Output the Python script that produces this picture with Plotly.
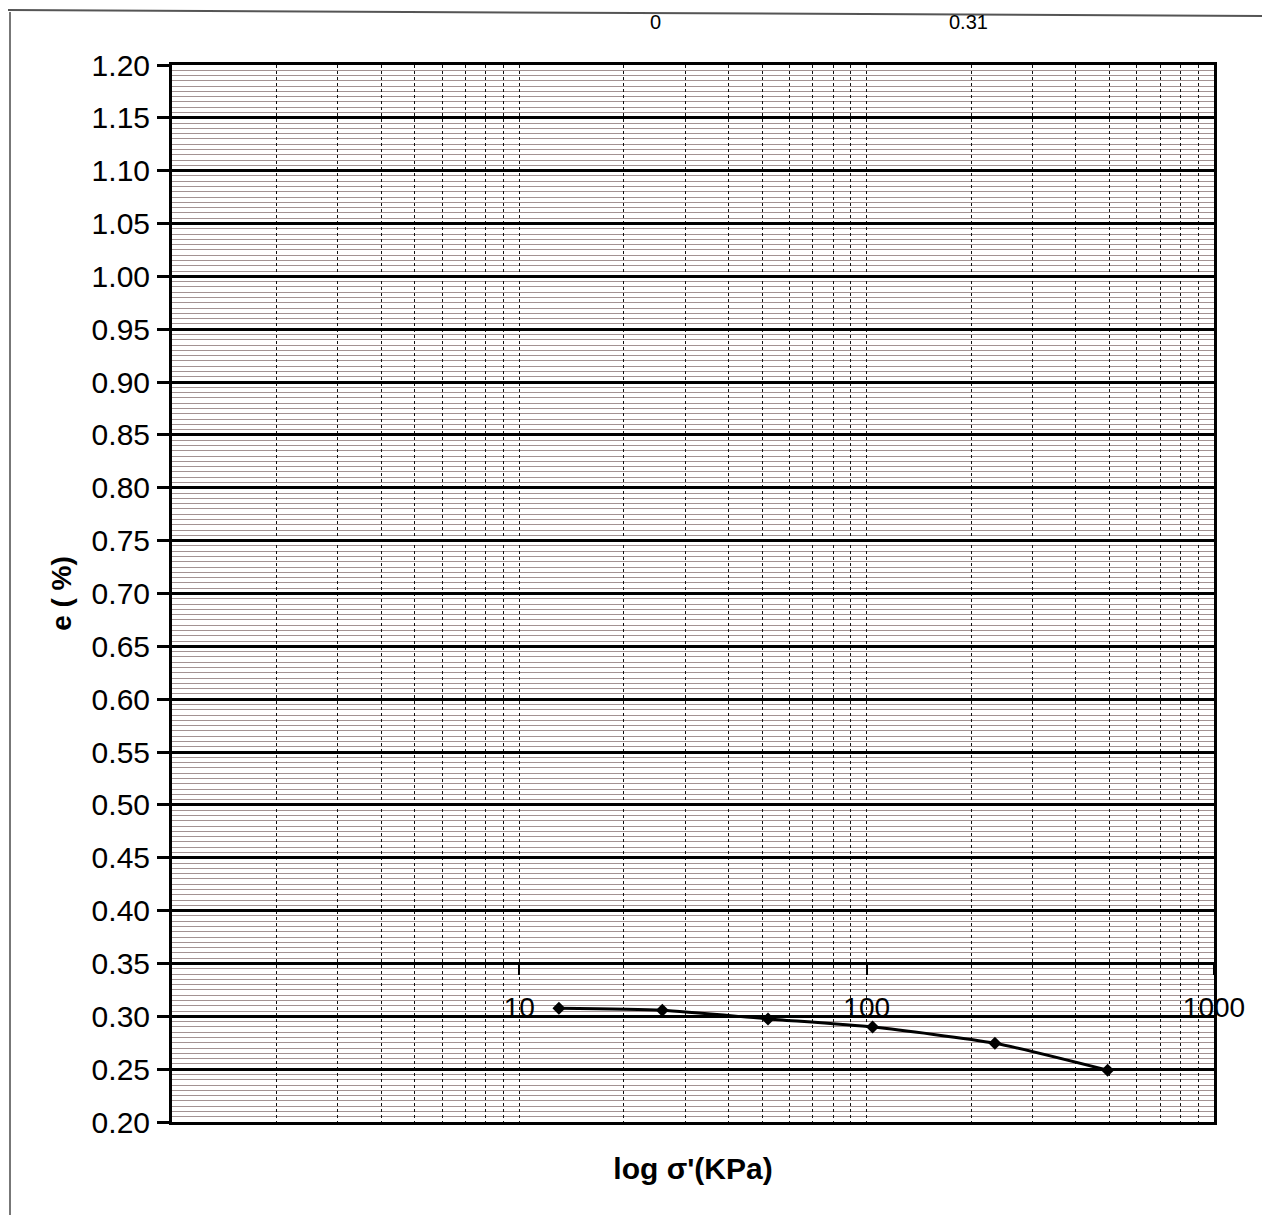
import plotly.graph_objects as go

# data
stress_kpa = [13.0, 25.8, 52.0, 104.0, 234.0, 494.0]
void_ratio = [0.3075, 0.3057, 0.2975, 0.2898, 0.2745, 0.249]

x_label_vals = [10, 100, 1000]
x_label_text = ["10", "100", "1000"]
y_tick_vals = [round(0.20 + 0.05 * i, 2) for i in range(21)]
y_tick_text = ["%.2f" % v for v in y_tick_vals]
x_grid_vals = [m * 10 ** d for d in range(3) for m in range(1, 10)] + [1000]

# page geometry (the page body adds an 8px offset)
OFF = 8
W, H = 1270 - 2 * OFF, 1223 - 2 * OFF
PL, PR, PT, PB = 172, 1214, 65, 1122
L, T = PL - OFF, PT - OFF
R, B = (OFF + W) - PR, (OFF + H) - PB

def px(x):
    return (x - PL) / (PR - PL)

def py(y):
    return (PB - y) / (PB - PT)

FONT = "Liberation Sans, Arial, sans-serif"

fig = go.Figure()
fig.add_trace(go.Scatter(
    x=stress_kpa, y=void_ratio, mode="lines+markers",
    line=dict(color="black", width=3, shape="spline", smoothing=0.6),
    marker=dict(symbol="diamond", size=10, color="black"),
    showlegend=False,
))
# invisible trace to carry the inner axis with labels
fig.add_trace(go.Scatter(x=[1, 1000], y=[0.35, 0.35], xaxis="x2", yaxis="y",
                         mode="lines", line=dict(width=0), hoverinfo="skip",
                         showlegend=False))

fig.update_layout(
    width=W, height=H,
    margin=dict(l=L, r=R, t=T, b=B),
    paper_bgcolor="white", plot_bgcolor="white",
    font=dict(family=FONT, color="black"),
    xaxis=dict(
        type="log", range=[0, 3],
        tickvals=x_grid_vals, showticklabels=False, ticks="",
        showgrid=True, gridcolor="#111111", gridwidth=1.4, griddash="dot",
        showline=True, linecolor="black", linewidth=3, mirror=True,
        zeroline=False,
        title=dict(text="<b>log σ'(KPa)</b>", font=dict(size=30), standoff=34),
    ),
    xaxis2=dict(
        type="log", range=[0, 3], overlaying="x", anchor="free", position=0.15,
        side="bottom",
        tickvals=x_label_vals, ticktext=x_label_text,
        ticks="outside", ticklen=11, tickwidth=2, tickcolor="black",
        tickfont=dict(size=28), showgrid=False, showline=False, zeroline=False,
        ticklabelstandoff=8,
    ),
    yaxis=dict(
        range=[0.20, 1.20],
        tickvals=y_tick_vals, ticktext=y_tick_text,
        ticks="outside", ticklen=12, tickwidth=3, tickcolor="black",
        tickfont=dict(size=30), ticklabelstandoff=1,
        showgrid=True, gridcolor="black", gridwidth=3,
        minor=dict(dtick=0.005, showgrid=True, gridcolor="#a39292", gridwidth=1, ticks=""),
        showline=True, linecolor="black", linewidth=3, mirror=True,
        zeroline=False,
        title=dict(text="<b>e ( %)</b>", font=dict(size=28), standoff=12),
    ),
    shapes=[
        dict(type="line", xref="paper", yref="paper", x0=px(8), x1=px(1270),
             y0=py(10), y1=py(16), line=dict(color="#555", width=2)),
        dict(type="line", xref="paper", yref="paper", x0=px(10), x1=px(10),
             y0=py(12), y1=py(1215), line=dict(color="#777", width=2)),
    ],
    annotations=[
        dict(text="0", xref="paper", yref="paper", x=px(655), y=py(9),
             yanchor="top", showarrow=False, font=dict(size=20)),
        dict(text="0.31", xref="paper", yref="paper", x=px(990), y=py(9),
             yanchor="top", showarrow=False, font=dict(size=20)),
    ],
)

fig.write_html("out.html")
